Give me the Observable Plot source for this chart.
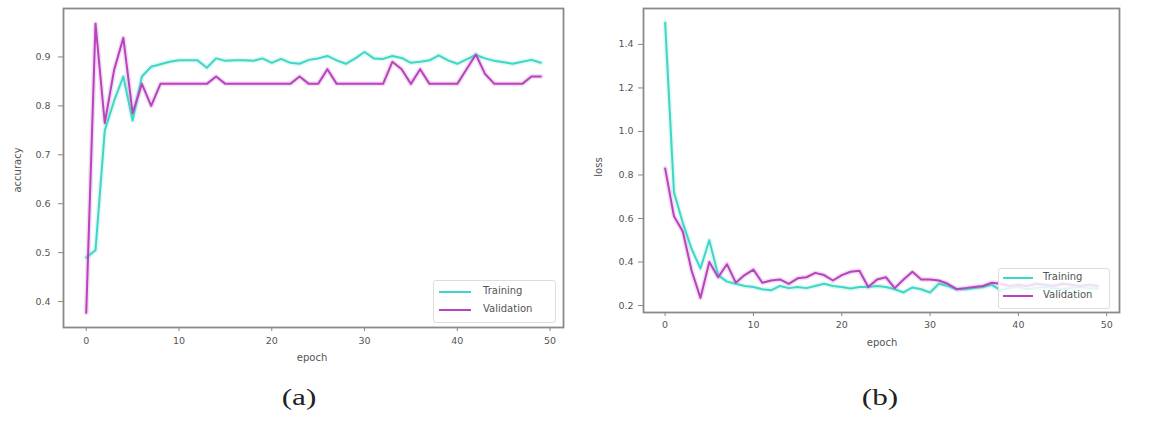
<!DOCTYPE html>
<html>
<head>
<meta charset="utf-8">
<script src="https://cdn.jsdelivr.net/npm/d3@7"></script>
<script src="https://cdn.jsdelivr.net/npm/@observablehq/plot@0.6"></script>
<style>
  html, body { margin: 0; padding: 0; background: #fff; }
  #wrap { position: relative; width: 1163px; height: 421px; background: #fff; overflow: hidden; font-family: "DejaVu Sans", sans-serif; }
  .panel { position: absolute; top: 0; }
  .lbl { position: absolute; font-size: 10px; color: #555; white-space: nowrap; transform: translate(-50%, -50%); }
  .vlbl { transform: translate(-50%, -50%) rotate(-90deg); }
  .cap { position: absolute; font-family: "Liberation Serif", "Times New Roman", serif; font-size: 24px; color: #222; transform: translate(-50%, -50%) scaleX(1.3); }
  .legend { position: absolute; background: rgba(255,255,255,0.82); border: 1px solid #ddd; border-radius: 3px; font-size: 10px; color: #555; }
  .legend .row { position: absolute; left: 0; white-space: nowrap; }
  .legend svg { position: absolute; }
</style>
</head>
<body>
<div id="wrap"></div>
<script>
// ---- data ----
const epochs = [0,1,2,3,4,5,6,7,8,9,10,11,12,13,14,15,16,17,18,19,20,21,22,23,24,25,26,27,28,29,30,31,32,33,34,35,36,37,38,39,40,41,42,43,44,45,46,47,48,49];
const seriesNames = ["Training", "Validation"];
const seriesColors = ["#40d6c6", "#b843bd"];

const accTraining = [0.49,0.505,0.75,0.81,0.86,0.77,0.86,0.88,0.885,0.89,
  0.893,0.893,0.893,0.878,0.897,0.892,0.893,0.893,0.892,0.897,
  0.888,0.896,0.888,0.886,0.894,0.897,0.902,0.893,0.886,0.897,
  0.910,0.897,0.896,0.902,0.898,0.888,0.890,0.893,0.903,0.893,
  0.886,0.895,0.904,0.897,0.892,0.889,0.886,0.890,0.894,0.888];
const accValidation = [0.377,0.968,0.765,0.873,0.939,0.785,0.845,0.80,0.845,0.845,
  0.845,0.845,0.845,0.845,0.86,0.845,0.845,0.845,0.845,0.845,
  0.845,0.845,0.845,0.86,0.845,0.845,0.875,0.845,0.845,0.845,
  0.845,0.845,0.845,0.89,0.875,0.845,0.875,0.845,0.845,0.845,
  0.845,0.875,0.905,0.865,0.845,0.845,0.845,0.845,0.86,0.86];

const lossTraining = [1.50,0.72,0.58,0.46,0.37,0.50,0.34,0.31,0.30,0.29,
  0.285,0.275,0.27,0.29,0.28,0.285,0.28,0.29,0.30,0.29,
  0.285,0.278,0.285,0.285,0.29,0.285,0.275,0.26,0.283,0.275,
  0.26,0.30,0.29,0.275,0.275,0.28,0.285,0.295,0.27,0.28,
  0.285,0.275,0.28,0.285,0.28,0.275,0.28,0.285,0.28,0.278];
const lossValidation = [0.83,0.61,0.54,0.36,0.235,0.40,0.33,0.39,0.305,0.34,
  0.365,0.305,0.315,0.32,0.30,0.325,0.33,0.35,0.34,0.315,
  0.34,0.355,0.36,0.285,0.32,0.33,0.28,0.32,0.355,0.32,
  0.32,0.315,0.30,0.275,0.28,0.285,0.29,0.305,0.30,0.29,
  0.295,0.29,0.30,0.295,0.29,0.30,0.295,0.29,0.295,0.29];

const xTicks = [0,10,20,30,40,50];
const accTicks = [0.4,0.5,0.6,0.7,0.8,0.9];
const lossTicks = [0.2,0.4,0.6,0.8,1.0,1.2,1.4];

// ---- helpers ----
function toRows(train, val) {
  const rows = [];
  epochs.forEach((e, i) => rows.push({epoch: e, value: train[i], series: seriesNames[0]}));
  epochs.forEach((e, i) => rows.push({epoch: e, value: val[i], series: seriesNames[1]}));
  return rows;
}

const wrap = document.getElementById("wrap");

function makePanel({left, width, height, margin, yDomain, yTicks, rows, tickPadY, tickPadX}) {
  const chart = Plot.plot({
    width, height,
    marginLeft: margin[0], marginTop: margin[1], marginRight: margin[2], marginBottom: margin[3],
    style: {background: "transparent", fontFamily: "DejaVu Sans, sans-serif", fontSize: "9.5px", color: "#555"},
    x: {domain: [-2.45, 51.45], ticks: xTicks, label: null},
    y: {domain: yDomain, ticks: yTicks, label: null},
    color: {domain: seriesNames, range: seriesColors},
    marks: [
      Plot.lineY(rows, {x: "epoch", y: "value", stroke: "series", strokeWidth: 5, strokeOpacity: 0.18}),
      Plot.lineY(rows, {x: "epoch", y: "value", stroke: "series", strokeWidth: 2}),
      Plot.frame({stroke: "#8a8a8a", strokeWidth: 1.8}),
      Plot.axisX({ticks: xTicks, tickSize: 4, tickPadding: tickPadX, stroke: "#888", label: null}),
      Plot.axisY({ticks: yTicks, tickSize: 5, tickPadding: tickPadY, stroke: "#888", label: null,
                  tickFormat: d => d.toFixed(1)})
    ]
  });
  const div = document.createElement("div");
  div.className = "panel";
  div.style.left = left + "px";
  div.appendChild(chart);
  wrap.appendChild(div);
}

makePanel({left: 0, width: 580, height: 370, margin: [63, 8, 17, 43],
  yDomain: [0.347, 0.999], yTicks: accTicks, rows: toRows(accTraining, accValidation), tickPadY: 8, tickPadX: 6});
makePanel({left: 580, width: 583, height: 370, margin: [63, 8, 44, 58],
  yDomain: [0.168, 1.565], yTicks: lossTicks, rows: toRows(lossTraining, lossValidation), tickPadY: 5, tickPadX: 5});

function addText(cls, text, x, y) {
  const d = document.createElement("div");
  d.className = cls;
  d.textContent = text;
  d.style.left = x + "px";
  d.style.top = y + "px";
  wrap.appendChild(d);
  return d;
}
addText("lbl vlbl", "accuracy", 17, 170);
addText("lbl", "epoch", 312, 357);
addText("lbl vlbl", "loss", 598, 167);
addText("lbl", "epoch", 882, 342);
addText("cap", "(a)", 299, 397);
addText("cap", "(b)", 880, 397);

function addLegend(x, y, w, h, lineX0, lineX1, rowsY, textX) {
  const lg = document.createElement("div");
  lg.className = "legend";
  lg.style.left = x + "px"; lg.style.top = y + "px";
  lg.style.width = w + "px"; lg.style.height = h + "px";
  seriesNames.forEach((name, i) => {
    const svgNS = "http://www.w3.org/2000/svg";
    const s = document.createElementNS(svgNS, "svg");
    s.setAttribute("width", lineX1 - lineX0 + 4);
    s.setAttribute("height", 6);
    s.style.left = (lineX0 - x - 2) + "px";
    s.style.top = (rowsY[i] - y - 3) + "px";
    const l = document.createElementNS(svgNS, "line");
    l.setAttribute("x1", 2); l.setAttribute("x2", lineX1 - lineX0 + 2);
    l.setAttribute("y1", 3); l.setAttribute("y2", 3);
    l.setAttribute("stroke", seriesColors[i]); l.setAttribute("stroke-width", 2);
    s.appendChild(l);
    lg.appendChild(s);
    const t = document.createElement("div");
    t.className = "row";
    t.textContent = name;
    t.style.left = (textX - x) + "px";
    t.style.top = (rowsY[i] - y - 7) + "px";
    lg.appendChild(t);
  });
  wrap.appendChild(lg);
}
addLegend(433, 280, 121, 41, 438, 470, [291, 309], 482);
addLegend(998, 268, 110, 39, 1002, 1032, [277, 295], 1042);
</script>
</body>
</html>
